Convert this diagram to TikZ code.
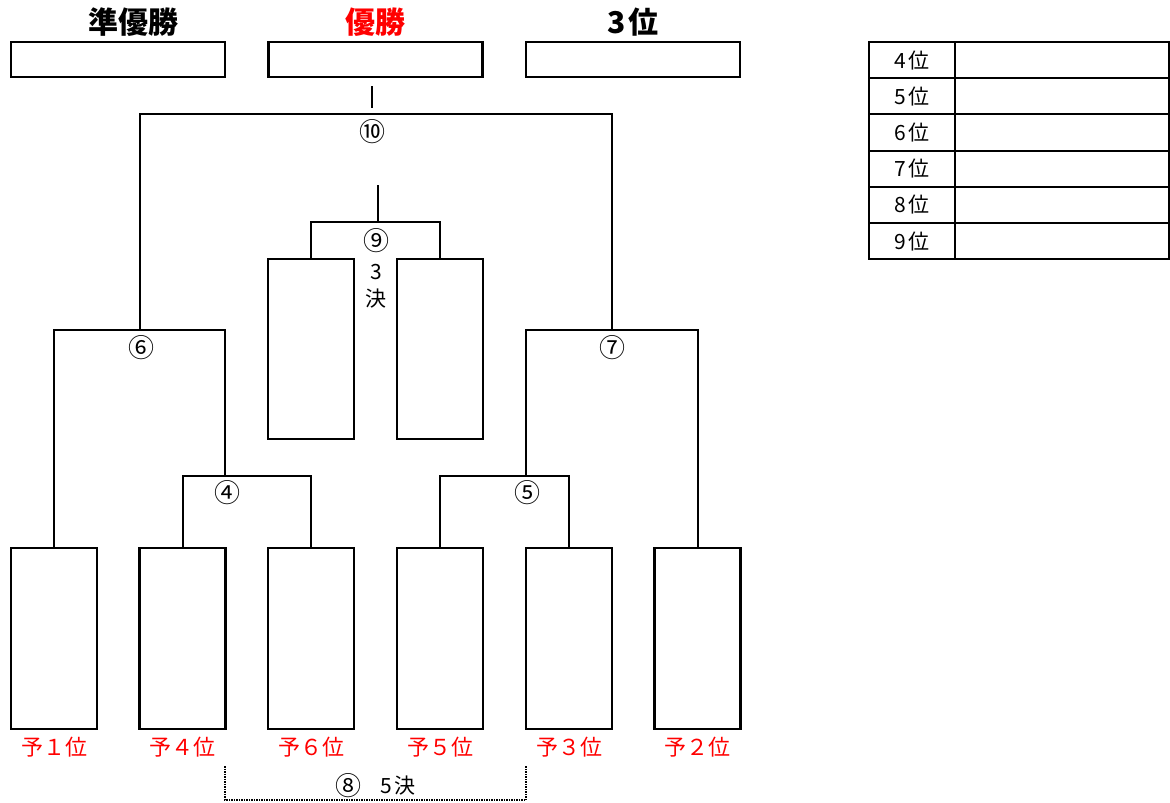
\documentclass[tikz,border=0pt]{standalone}
\usepackage{fontspec}
\setmainfont{Noto Sans CJK JP}
\usetikzlibrary{calc}
\tikzstyle{entry}=[draw,line width=2.5pt,minimum width=86pt,minimum height=181pt,inner sep=0pt]
\tikzstyle{winbox}=[draw,line width=2.5pt,minimum width=214pt,minimum height=35pt,inner sep=0pt]
\tikzstyle{cell}=[draw,line width=2pt,minimum height=36.2pt,inner sep=0pt]
\tikzstyle{link}=[draw,line width=2pt]
\tikzstyle{seed}=[text=red,font=\fontsize{22}{26}\selectfont]
\tikzstyle{game}=[font=\fontsize{26}{28}\selectfont]
\tikzstyle{title}=[font=\bfseries\fontsize{30}{32}\selectfont]
\tikzstyle{rank}=[font=\fontsize{21}{24}\selectfont]

\begin{document}
\begin{tikzpicture}[x=1pt,y=-1pt]
    \useasboundingbox (0,0) rectangle (1170,803);

    % result boxes
    \foreach \pos/ \name/ \txt/ \col/ \dx in {{(118,59.5)/second/準優勝/black/15},{(375.5,59.5)/first/優勝/red/0},{(633,59.5)/third/3\kern3pt 位/black/0}} {
        \node[winbox] (\name) at \pos {};
        \node[title,text=\col] (t\name) at ($(\name.north)+(\dx,-19)$) {\txt};
    }

    % first round entries
    \foreach \pos/ \name/ \seed in {{(54,638.5)/p1/１},{(182.5,638.5)/p4/４},{(311,638.5)/p6/６},{(440,638.5)/p5/５},{(569,638.5)/p3/３},{(697.5,638.5)/p2/２}} {
        \node[entry] (\name) at \pos {};
        \node[seed] (s\name) at ($(\name.south)+(0,17)$) {予\seed 位};
    }

    % 3rd place entries
    \foreach \pos/ \name in {{(311,349)/q1},{(440,349)/q2}}
        \node[entry,minimum height=180pt] (\name) at \pos {};

    % bracket corners
    \coordinate (c4) at (225,476);
    \coordinate (c5) at (526,476);
    \coordinate (c6) at (140,330);
    \coordinate (c7) at (612,330);
    \coordinate (c9) at (378,222);
    \coordinate (c10) at (372,114);
    \coordinate (u9) at (378,185);
    \coordinate (u10a) at (372,86);
    \coordinate (u10b) at (372,108);

    % Connect entries with brackets
    \path[link] (p4.north) |- (c4) -| (p6.north);
    \path[link] (p5.north) |- (c5) -| (p3.north);
    \path[link] (p1.north) |- (c6) -| (c4);
    \path[link] (c5) |- (c7) -| (p2.north);
    \path[link] (c6) |- (c10) -| (c7);
    \path[link,line width=2.5pt] (u10a) -- (u10b);
    \path[link] (q1.north) |- (c9) -| (q2.north);
    \path[link,line width=2.5pt] (u9) -- (c9);

    % game numbers
    \foreach \pos/ \name/ \txt in {{(227,493)/g4/④},{(527,493)/g5/⑤},{(141,348)/g6/⑥},{(612,348)/g7/⑦},{(376,241)/g9/⑨},{(372,132)/g10/⑩}}
        \node[game] (\name) at \pos {\txt};
    \node[rank] (g9a) at (376,272) {3};
    \node[rank] (g9b) at (376,299) {決};

    % 5th place game
    \coordinate (d1) at (225,766);
    \coordinate (d2) at (526,766);
    \path[draw,line width=1.5pt,densely dotted] (d1) |- ($(d1)!0.5!(d2)+(0,34)$) -| (d2);
    \node[game] (g8) at (348,786) {⑧};
    \node[rank] (g8b) at (398,786) {5\kern2pt 決};

    % ranking table
    \foreach \i/ \r in {0/4,1/5,2/6,3/7,4/8,5/9} {
        \node[cell,minimum width=86pt] (k\r) at (912,60.1+36.2*\i) {};
        \node[cell,minimum width=214pt] (v\r) at (1062,60.1+36.2*\i) {};
        \node[rank] (n\r) at (k\r) {\r\kern2pt 位};
    }

\end{tikzpicture}
\end{document}
